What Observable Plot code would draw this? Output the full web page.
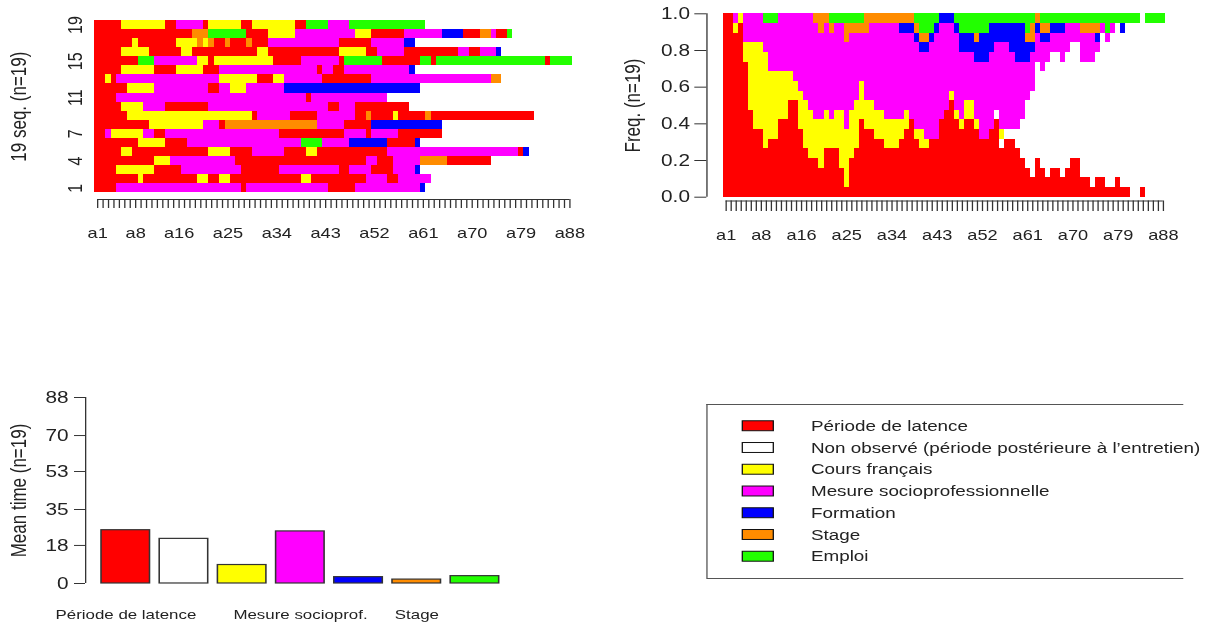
<!DOCTYPE html>
<html>
<head>
<meta charset="utf-8">
<script src="https://cdn.jsdelivr.net/npm/d3@7"></script>
<script src="https://cdn.jsdelivr.net/npm/@observablehq/plot@0.6"></script>
<style>
  html, body { margin: 0; padding: 0; background: #fff; overflow: hidden; width: 1224px; height: 628px; }
  #stage { position: absolute; left: 0; top: 0; height: 628px; transform-origin: 0 0; }
  .panel { position: absolute; }
  .panel svg { display: block; overflow: visible; }
</style>
</head>
<body>
<div id="stage"></div>
<script>
// ---------------- DATA ----------------
const stateCodes = ["L", "N", "Y", "M", "F", "S", "E"];
const stateNames = [
  "Période de latence",
  "Non observé (période postérieure à l’entretien)",
  "Cours français",
  "Mesure socioprofessionnelle",
  "Formation",
  "Stage",
  "Emploi"
];
const stateColors = ["#FF0000", "#FFFFFF", "#FFFF00", "#FF00FF", "#0000FF", "#FF8C00", "#22FF00"];
// bar names printed under the mean-time bars (R dropped the overlapping ones)
const barLabels = ["Période de latence", null, null, "Mesure socioprof.", null, "Stage", null];
const nSteps = 88;
const timeTickLabels = [1, 8, 16, 25, 34, 43, 52, 61, 70, 79, 88];
const seqTickLabels = [1, 4, 7, 11, 15, 19];
const freqTicks = [0, 0.2, 0.4, 0.6, 0.8, 1.0];
const meanTicks = [0, 18, 35, 53, 70, 88];

// sequences 1..19 (run-length: state code + number of months); after the end: not observed
const sequences = [
  "L4 M23 L1 M15 L5 M12 F1",
  "L8 Y1 L10 Y2 L2 Y2 L13 Y2 L10 M4 L2 M6",
  "L4 Y7 L5 M11 L7 M11 L2 M4 L4 M4 F1",
  "L11 Y3 M12 L24 M2 L3 M5 S5 L8",
  "L5 Y2 L14 Y4 L4 M6 L4 Y2 L13 M24 L1 F1",
  "L8 Y5 L4 M21 E4 M5 F7 L5 F1",
  "L2 M1 Y6 M2 L2 M21 L12 M4 L1 M5 L8",
  "L10 Y10 M3 L1 S17 M5 L5 F13",
  "L6 Y23 L1 M6 L5 M7 L2 S1 L4 Y1 L5 S1 L19",
  "L5 Y4 M4 L8 M22 L2 M3 L10",
  "L4 M35 L1 M14",
  "L6 Y5 M10 L2 M2 Y3 M7 F25",
  "L2 Y1 L1 M19 Y7 L3 Y2 M7 L9 M22 S2",
  "L5 Y6 L4 Y5 L3 M18 L1 M2 L2 M12 F1",
  "L8 E3 M8 Y2 L1 Y11 L5 M7 L1 E7 L7 E2 L1 E20 L1 E4",
  "L5 Y5 L6 Y2 L12 Y2 L13 Y5 L2 M5 L10 M2 L2 M3 F1",
  "L7 Y1 L7 Y4 S1 Y1 S1 L2 S1 L3 S1 L3 M13 L6 M6 F2",
  "L18 S3 E7 L4 Y5 M11 Y3 L6 M7 F4 L3 S2 M1 L2 E1",
  "L5 Y8 L2 M5 L1 Y6 L2 Y8 L2 E4 M4 E14"
];

// ---------------- DERIVED TABLES ----------------
const nSeq = sequences.length;
const runs = [];
const expanded = sequences.map((s, k) => {
  const out = [];
  s.trim().split(/\s+/).forEach(tok => {
    const code = tok[0], n = +tok.slice(1);
    runs.push({seq: k + 1, start: out.length, end: out.length + n, code});
    for (let i = 0; i < n; i++) out.push(code);
  });
  if (out.length < nSteps) runs.push({seq: k + 1, start: out.length, end: nSteps, code: "N"});
  while (out.length < nSteps) out.push("N");
  return out;
});

const dist = [];
for (let t = 0; t < nSteps; t++) {
  let cum = 0;
  stateCodes.forEach(code => {
    const c = expanded.filter(e => e[t] === code).length;
    if (c > 0) {
      dist.push({t, code, y1: cum / nSeq, y2: (cum + c) / nSeq});
      cum += c;
    }
  });
}
const means = stateCodes.map((code, i) => ({
  i, code,
  mean: d3.sum(expanded, e => e.filter(v => v === code).length) / nSeq
}));
const legendData = stateCodes.map((code, i) => ({i, code, name: stateNames[i]}));
const stepCenters = d3.range(nSteps).map(t => t + 0.5);
const yMaxMean = meanTicks[meanTicks.length - 1];

// ---------------- LAYOUT ----------------
const K = 1.3;              // horizontal stretch of the original picture
const u = v => v / K;
const stage = document.getElementById("stage");
stage.style.width = u(1224) + "px";
stage.style.transform = `scaleX(${K})`;
const FONT = "'Liberation Sans', Arial, Helvetica, sans-serif";
const INK = "#222";
const color = {domain: stateCodes, range: stateColors};

function place(node, left, top) {
  const d = document.createElement("div");
  d.className = "panel";
  d.style.left = u(left) + "px";
  d.style.top = top + "px";
  d.appendChild(node);
  stage.appendChild(d);
}
function base(P) {
  return {
    width: u(P.w), height: P.h,
    marginLeft: u(P.fx0 - P.left), marginRight: u(P.left + P.w - P.fx1),
    marginTop: P.fy0 - P.top, marginBottom: P.top + P.h - P.fy1,
    style: {fontFamily: FONT, fontSize: "16px", color: INK, background: "transparent", overflow: "visible"}
  };
}

// Panel A: index plot
const A = {left: 0, top: 0, w: 612, h: 314, fx0: 94.3, fx1: 572, fy0: 20, fy1: 192.3};
place(Plot.plot({
  ...base(A),
  x: {domain: [0, nSteps], axis: null},
  y: {domain: [0, nSeq], axis: null},
  color,
  marks: [
    Plot.rect(runs.filter(r => r.code !== "N"), {
      x1: "start", x2: "end", y1: d => d.seq - 1, y2: d => d.seq, fill: "code", shapeRendering: "crispEdges"
    }),
    Plot.text(seqTickLabels, {y: d => d - 0.5, text: d => String(d), frameAnchor: "left", textAnchor: "middle", dx: u(75 - A.fx0), rotate: -90, fontSize: 16}),
    Plot.text([`${nSeq} seq. (n=${nSeq})`], {text: d => d, frameAnchor: "left", textAnchor: "middle", dx: u(18 - A.fx0), rotate: -90, fontSize: 17}),
    Plot.ruleY([{y: 0, x1: stepCenters[0], x2: stepCenters[nSteps - 1]}], {y: "y", x1: "x1", x2: "x2", dy: 6.7, stroke: "#333"}),
    Plot.ruleX(stepCenters, {x: d => d, insetTop: (A.fy1 - A.fy0) + 6.7, insetBottom: -(6.7 + 9), stroke: "#333"}),
    Plot.text(timeTickLabels, {x: d => d - 0.5, text: d => "a" + d, frameAnchor: "bottom", lineAnchor: "top", dy: 35.5, fontSize: 14})
  ]
}), A.left, A.top);

// Panel B: state distribution plot
const B = {left: 612, top: 0, w: 612, h: 314, fx0: 722.7, fx1: 1165, fy0: 13.3, fy1: 196.7};
place(Plot.plot({
  ...base(B),
  x: {domain: [0, nSteps], axis: null},
  y: {domain: [0, 1], axis: null},
  color,
  marks: [
    Plot.rect(dist, {x1: "t", x2: d => d.t + 1, y1: "y1", y2: "y2", fill: "code", shapeRendering: "crispEdges"}),
    Plot.ruleX([0], {y1: 0, y2: 1, dx: u(706 - B.fx0), stroke: "#333"}),
    Plot.ruleY(freqTicks, {y: d => d, insetLeft: -u(B.fx0 - 694), insetRight: u(B.fx1 - 706), stroke: "#333"}),
    Plot.text(freqTicks, {y: d => d, text: d => d.toFixed(1), frameAnchor: "left", textAnchor: "end", dx: u(689 - B.fx0), fontSize: 16}),
    Plot.text([`Freq. (n=${nSeq})`], {text: d => d, frameAnchor: "left", textAnchor: "middle", dx: u(632 - B.fx0), rotate: -90, fontSize: 17}),
    Plot.ruleY([{y: 0, x1: stepCenters[0], x2: stepCenters[nSteps - 1]}], {y: "y", x1: "x1", x2: "x2", dy: 3.8, stroke: "#333"}),
    Plot.ruleX(stepCenters, {x: d => d, insetTop: (B.fy1 - B.fy0) + 3.8, insetBottom: -(3.8 + 10.5), stroke: "#333"}),
    Plot.text(timeTickLabels, {x: d => d - 0.5, text: d => "a" + d, frameAnchor: "bottom", lineAnchor: "top", dy: 33, fontSize: 14})
  ]
}), B.left, B.top);

// Panel C: mean time plot (R barplot layout: width 1, space 0.2)
const C = {left: 0, top: 314, w: 612, h: 314, fx0: 91.3, fx1: 498.7, fy0: 397, fy1: 583};
const barX1 = i => 0.2 + 1.2 * i;
place(Plot.plot({
  ...base(C),
  x: {domain: [0, barX1(stateCodes.length - 1) + 1], axis: null},
  y: {domain: [0, yMaxMean], axis: null},
  color,
  marks: [
    Plot.rect(means, {x1: d => barX1(d.i), x2: d => barX1(d.i) + 1, y1: 0, y2: "mean", fill: "code", stroke: "#333", strokeWidth: 1.2}),
    Plot.ruleX([0], {y1: 0, y2: yMaxMean, dx: u(85 - C.fx0), stroke: "#333"}),
    Plot.ruleY(meanTicks, {y: d => d, insetLeft: -u(C.fx0 - 74), insetRight: u(C.fx1 - 85), stroke: "#333"}),
    Plot.text(meanTicks, {y: d => d, text: d => String(d), frameAnchor: "left", textAnchor: "end", dx: u(68 - C.fx0), fontSize: 16}),
    Plot.text([`Mean time (n=${nSeq})`], {text: d => d, frameAnchor: "left", textAnchor: "middle", dx: u(18 - C.fx0), rotate: -90, fontSize: 17}),
    Plot.text(means.filter(d => barLabels[d.i]), {x: d => barX1(d.i) + 0.5, text: d => barLabels[d.i], frameAnchor: "bottom", dy: 36, fontSize: 13})
  ]
}), C.left, C.top);

// Panel D: legend
const D = {left: 612, top: 314, w: 612, h: 314, fx0: 706, fx1: 1183, fy0: 404, fy1: 578};
const nRows = stateCodes.length + 1;
place(Plot.plot({
  ...base(D),
  x: {domain: [0, 1], axis: null},
  y: {domain: [0, nRows], reverse: true, axis: null},
  color,
  marks: [
    Plot.ruleY([0, nRows], {stroke: "#555"}),
    Plot.ruleX([0], {y1: 0, y2: nRows, stroke: "#555"}),
    Plot.rect(legendData, {
      x1: 0, x2: 1, y1: d => d.i + 0.5, y2: d => d.i + 1.5,
      insetTop: 5.9, insetBottom: 5.9, insetLeft: u(742 - D.fx0), insetRight: u(D.fx1 - 773),
      fill: "code", stroke: "#111"
    }),
    Plot.text(legendData, {y: d => d.i + 1, text: "name", frameAnchor: "left", textAnchor: "start", dx: u(810 - D.fx0), fontSize: 14.5})
  ]
}), D.left, D.top);
</script>
</body>
</html>
